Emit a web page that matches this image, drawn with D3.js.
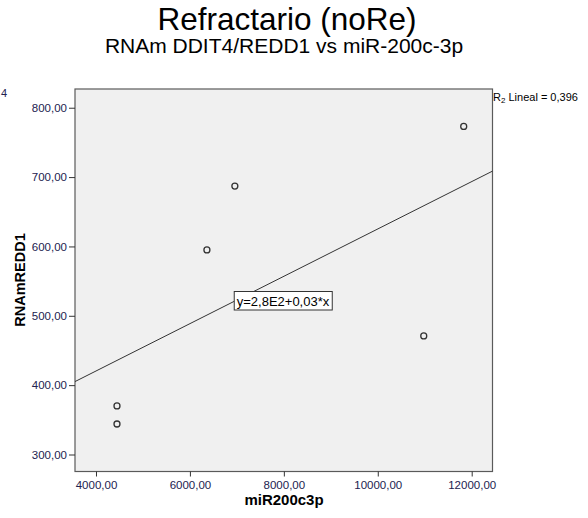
<!DOCTYPE html>
<html><head><meta charset="utf-8">
<script src="https://cdn.jsdelivr.net/npm/d3@7"></script>
<style>
body{margin:0;background:#fff;}
text{font-family:"Liberation Sans",Arial,sans-serif;}
</style></head>
<body><svg id="c" width="588" height="518"></svg>
<script>
const xValues = [4447, 4447, 6362, 6957, 10979, 11830];
const yValues = [370, 344, 595, 687, 471, 773];
const xTicks = [4000, 6000, 8000, 10000, 12000];
const yTicks = [300, 400, 500, 600, 700, 800];
const title = "Refractario (noRe)";
const subtitle = "RNAm DDIT4/REDD1 vs miR-200c-3p";
const xLabel = "miR200c3p";
const yLabel = "RNAmREDD1";
const fitLabel = "y=2,8E2+0,03*x";
const r2Text = "0,396";

const svg = d3.select("#c");
const L = 75, R = 492.5, T = 89, B = 471.5;
const x = d3.scaleLinear().domain([3553, 12443]).range([L, R]);
const y = d3.scaleLinear().domain([275.5, 827]).range([B, T]);
const fmt = v => d3.format(".2f")(v).replace(".", ",");
const tickFont = "'Noto Sans','Liberation Sans',sans-serif";

svg.append("text").attr("x", 287).attr("y", 30).attr("text-anchor", "middle")
  .attr("font-size", 31.5).attr("fill", "#000").text(title);
svg.append("text").attr("x", 284).attr("y", 53).attr("text-anchor", "middle")
  .attr("font-size", 21).attr("fill", "#000").text(subtitle);

svg.append("rect").attr("x", L).attr("y", T).attr("width", R - L).attr("height", B - T)
  .attr("fill", "#f0f0f0").attr("stroke", "#5a5a5a").attr("stroke-width", 1.2);

const xa = svg.append("g").attr("transform", `translate(0,${B})`)
  .call(d3.axisBottom(x).tickValues(xTicks).tickFormat(fmt).tickSize(5).tickPadding(4).tickSizeOuter(0));
const ya = svg.append("g").attr("transform", `translate(${L},0)`)
  .call(d3.axisLeft(y).tickValues(yTicks).tickFormat(fmt).tickSize(6).tickPadding(2).tickSizeOuter(0));
[xa, ya].forEach(a => {
  a.select(".domain").remove();
  a.selectAll("line").attr("stroke", "#333");
  a.selectAll("text").attr("font-family", tickFont).attr("font-size", 11.5).attr("fill", "#222250");
});

// regression line (least squares)
const n = xValues.length;
const mx = d3.mean(xValues), my = d3.mean(yValues);
let sxy = 0, sxx = 0;
for (let i = 0; i < n; i++) { sxy += (xValues[i] - mx) * (yValues[i] - my); sxx += (xValues[i] - mx) ** 2; }
const slope = sxy / sxx, icpt = my - slope * mx;
const [x0, x1] = x.domain();
svg.append("line").attr("x1", x(x0)).attr("y1", y(icpt + slope * x0))
  .attr("x2", x(x1)).attr("y2", y(icpt + slope * x1))
  .attr("stroke", "#333").attr("stroke-width", 1);

svg.selectAll("circle.pt").data(xValues.map((v, i) => [v, yValues[i]])).enter()
  .append("circle").attr("class", "pt")
  .attr("cx", d => x(d[0])).attr("cy", d => y(d[1])).attr("r", 3)
  .attr("fill", "none").attr("stroke", "#333").attr("stroke-width", 1.3);

// fit label box
const fx = 283, fy = 301;
const fitBox = svg.append("rect");
const ft = svg.append("text").attr("x", fx).attr("y", fy + 4.5).attr("text-anchor", "middle")
  .attr("font-size", 13).attr("fill", "#000").text(fitLabel);
const bb = ft.node().getBBox();
fitBox.attr("x", bb.x - 2.5).attr("y", fy - 9.5).attr("width", bb.width + 5).attr("height", 18.5)
  .attr("fill", "#fff").attr("stroke", "#333").attr("stroke-width", 1);

// axis titles
svg.append("text").attr("x", 284).attr("y", 505).attr("text-anchor", "middle")
  .attr("font-family", "'DejaVu Sans',sans-serif").attr("font-weight", "bold").attr("font-size", 15).text(xLabel);
svg.append("text").attr("transform", "translate(25,280) rotate(-90)").attr("text-anchor", "middle")
  .attr("font-family", "'DejaVu Sans',sans-serif").attr("font-weight", "bold").attr("font-size", 14.5).text(yLabel);

// cropped legend fragments
svg.append("text").attr("x", 1).attr("y", 97).attr("font-family", tickFont)
  .attr("font-size", 11).attr("fill", "#222250").text("4");
const lg = svg.append("text").attr("x", 493).attr("y", 101).attr("font-family", tickFont)
  .attr("font-size", 11).attr("fill", "#000");
lg.append("tspan").text("R");
lg.append("tspan").attr("font-size", 8).attr("dy", 2).text("2");
lg.append("tspan").attr("dy", -2).text(" Lineal = " + r2Text);
</script></body></html>
